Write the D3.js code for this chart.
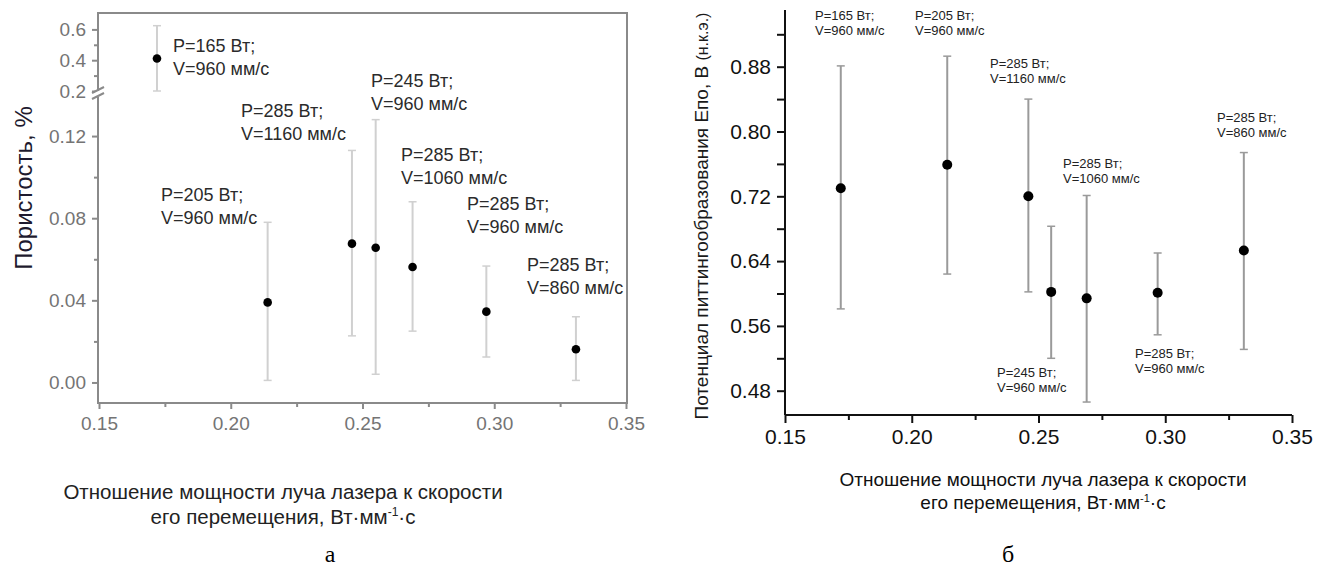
<!DOCTYPE html>
<html><head><meta charset="utf-8">
<script src="https://cdn.jsdelivr.net/npm/d3@7"></script>
<style>
html,body{margin:0;padding:0;background:#fff;}
svg{display:block;font-family:Arial,"Liberation Sans",sans-serif;}
</style></head>
<body>
<svg id="chart" width="1328" height="576"></svg>
<script>
// ---- data ----
const power = [165, 205, 285, 245, 285, 285, 285];          // Вт
const speed = [960, 960, 1160, 960, 1060, 960, 860];        // мм/с
const ratio = [0.172, 0.214, 0.246, 0.255, 0.269, 0.297, 0.331];
const porosity     = [0.411, 0.039, 0.0676, 0.0656, 0.0562, 0.0345, 0.0162];
const porosityLow  = [0.200, 0.001, 0.0227, 0.004, 0.025, 0.0124, 0.001];
const porosityHigh = [0.624, 0.078, 0.113, 0.128, 0.088, 0.0567, 0.032];
const potential     = [0.730, 0.759, 0.720, 0.602, 0.594, 0.601, 0.653];
const potentialLow  = [0.581, 0.624, 0.602, 0.520, 0.466, 0.549, 0.531];
const potentialHigh = [0.881, 0.893, 0.840, 0.683, 0.721, 0.650, 0.774];
const xTicks = [0.15, 0.20, 0.25, 0.30, 0.35];
const porTicksLow = [0.00, 0.04, 0.08, 0.12];
const porTicksHigh = [0.2, 0.4, 0.6];
const potTicks = [0.48, 0.56, 0.64, 0.72, 0.80, 0.88];

const svg = d3.select("#chart");
const fmt2 = d3.format(".2f"), fmt1 = d3.format(".1f");

// ================= LEFT CHART (а) =================
const L = {left: 98, right: 627, top: 13, bottom: 403};
const xL = d3.scaleLinear().domain([0.15, 0.35]).range([L.left + 1, 626]);
const yLo = d3.scaleLinear().domain([-0.01, 0.14]).range([L.bottom, 95]);
const yHi = d3.scaleLinear().domain([0.2, 0.7]).range([91, 14]);
const yPor = v => v >= 0.2 ? yHi(v) : yLo(v);
const gL = svg.append("g");
const grey = "#8a8a8a";

// frame
gL.append("rect").attr("x", L.left).attr("y", L.top)
  .attr("width", L.right - L.left).attr("height", L.bottom - L.top)
  .attr("fill", "none").attr("stroke", grey).attr("stroke-width", 2);

// x axis
const gxL = gL.append("g").attr("transform", `translate(0,${L.bottom})`)
  .call(d3.axisBottom(xL).tickValues(xTicks).tickFormat(fmt2).tickSize(6).tickPadding(8));
gxL.select(".domain").remove();
const gxLm = gL.append("g").attr("transform", `translate(0,${L.bottom})`)
  .call(d3.axisBottom(xL).tickValues([0.175, 0.225, 0.275, 0.325]).tickFormat("").tickSize(4));
gxLm.select(".domain").remove();

// y axis lower
const gyLo = gL.append("g").attr("transform", `translate(${L.left},0)`)
  .call(d3.axisLeft(yLo).tickValues(porTicksLow).tickFormat(fmt2).tickSize(6).tickPadding(6));
gyLo.select(".domain").remove();
const gyLoM = gL.append("g").attr("transform", `translate(${L.left},0)`)
  .call(d3.axisLeft(yLo).tickValues([0.02, 0.06, 0.10]).tickFormat("").tickSize(4));
gyLoM.select(".domain").remove();
// y axis upper
const gyHi = gL.append("g").attr("transform", `translate(${L.left},0)`)
  .call(d3.axisLeft(yHi).tickValues(porTicksHigh).tickFormat(fmt1).tickSize(6).tickPadding(6));
gyHi.select(".domain").remove();
const gyHiM = gL.append("g").attr("transform", `translate(${L.left},0)`)
  .call(d3.axisLeft(yHi).tickValues([0.3, 0.5]).tickFormat("").tickSize(4));
gyHiM.select(".domain").remove();
[gxL, gxLm, gyLo, gyLoM, gyHi, gyHiM].forEach(g => {
  g.selectAll("line").attr("stroke", grey).attr("stroke-width", 2);
  g.selectAll("text").attr("fill", "#747474").attr("font-size", 19).attr("font-family", "Arial,Liberation Sans");
});

// axis break
gL.append("rect").attr("x", L.left - 3).attr("y", 91).attr("width", 6).attr("height", 6).attr("fill", "#fff");
gL.append("line").attr("x1", L.left - 6).attr("y1", 93).attr("x2", L.left + 6).attr("y2", 87).attr("stroke", grey).attr("stroke-width", 2);
gL.append("line").attr("x1", L.left - 6).attr("y1", 99).attr("x2", L.left + 6).attr("y2", 93).attr("stroke", grey).attr("stroke-width", 2);

// error bars + points
const capL = 4;
ratio.forEach((r, i) => {
  const x = xL(r);
  gL.append("line").attr("x1", x).attr("x2", x).attr("y1", yPor(porosityLow[i])).attr("y2", yPor(porosityHigh[i]))
    .attr("stroke", "#d0d0d0").attr("stroke-width", 2);
  [porosityLow[i], porosityHigh[i]].forEach(v => {
    gL.append("line").attr("x1", x - capL).attr("x2", x + capL).attr("y1", yPor(v)).attr("y2", yPor(v))
      .attr("stroke", "#d0d0d0").attr("stroke-width", 1.5);
  });
  gL.append("circle").attr("cx", x).attr("cy", yPor(porosity[i])).attr("r", 4.3).attr("fill", "#000");
});

// labels
const leftLabelPos = [[173, 52], [161, 201], [241, 117], [371, 87], [401, 161], [467, 210], [527, 271]];
power.forEach((p, i) => {
  const t = gL.append("text").attr("x", leftLabelPos[i][0]).attr("y", leftLabelPos[i][1])
    .attr("font-size", 18).attr("fill", "#2b2b2b");
  t.append("tspan").attr("x", leftLabelPos[i][0]).text(`P=${p} Вт;`);
  t.append("tspan").attr("x", leftLabelPos[i][0]).attr("dy", 23).text(`V=${speed[i]} мм/с`);
});

// axis titles
gL.append("text").attr("transform", "translate(32,188) rotate(-90)").attr("text-anchor", "middle")
  .attr("font-size", 24).attr("fill", "#1e1a2e").text("Пористость, %");
const xtL = gL.append("text").attr("text-anchor", "middle").attr("font-size", 20.5).attr("fill", "#222");
xtL.append("tspan").attr("x", 283).attr("y", 499).text("Отношение мощности луча лазера к скорости");
const l2 = xtL.append("tspan").attr("x", 283).attr("y", 524);
l2.append("tspan").text("его перемещения, Вт·мм");
l2.append("tspan").attr("font-size", 12).attr("dy", -8).text("-1");
l2.append("tspan").attr("dy", 8).text("·с");
gL.append("text").attr("x", 330).attr("y", 562).attr("text-anchor", "middle")
  .attr("font-family", "'Liberation Serif','DejaVu Serif',serif").attr("font-size", 24).attr("fill", "#000").text("а");

// ================= RIGHT CHART (б) =================
const R = {left: 785, bottom: 415, top: 10};
const xR = d3.scaleLinear().domain([0.15, 0.35]).range([R.left, 1292]);
const yR = d3.scaleLinear().domain([0.45, 0.95]).range([R.bottom, R.top]);
const gR = svg.append("g");

const gxR = gR.append("g").attr("transform", `translate(0,${R.bottom})`)
  .call(d3.axisBottom(xR).tickValues(xTicks).tickFormat(fmt2).tickSize(8).tickPadding(6));
const gxRm = gR.append("g").attr("transform", `translate(0,${R.bottom})`)
  .call(d3.axisBottom(xR).tickValues([0.175, 0.225, 0.275, 0.325]).tickFormat("").tickSize(5));
gxRm.select(".domain").remove();
const gyR = gR.append("g").attr("transform", `translate(${R.left},0)`)
  .call(d3.axisLeft(yR).tickValues(potTicks).tickFormat(fmt2).tickSize(8).tickPadding(6));
const gyRm = gR.append("g").attr("transform", `translate(${R.left},0)`)
  .call(d3.axisLeft(yR).tickValues([0.52, 0.60, 0.68, 0.76, 0.84, 0.92]).tickFormat("").tickSize(8));
gyRm.select(".domain").remove();
[gxR, gxRm, gyR, gyRm].forEach(g => {
  g.selectAll(".domain").attr("stroke", "#111").attr("stroke-width", 2);
  g.selectAll("line").attr("stroke", "#111").attr("stroke-width", 2);
  g.selectAll("text").attr("fill", "#111").attr("font-size", 21).attr("font-family", "Arial,Liberation Sans");
});
gxR.select(".domain").attr("d", `M${R.left},0H1292`);
gyR.select(".domain").attr("d", `M0,${R.top}V${R.bottom}`);

const capR = 4;
ratio.forEach((r, i) => {
  const x = xR(r);
  gR.append("line").attr("x1", x).attr("x2", x).attr("y1", yR(potentialLow[i])).attr("y2", yR(potentialHigh[i]))
    .attr("stroke", "#9a9a9a").attr("stroke-width", 2);
  [potentialLow[i], potentialHigh[i]].forEach(v => {
    gR.append("line").attr("x1", x - capR).attr("x2", x + capR).attr("y1", yR(v)).attr("y2", yR(v))
      .attr("stroke", "#9a9a9a").attr("stroke-width", 1.5);
  });
  gR.append("circle").attr("cx", x).attr("cy", yR(potential[i])).attr("r", 5).attr("fill", "#000");
});

const rightLabelPos = [[815, 20], [915, 20], [990, 68], [997, 377], [1063, 168], [1135, 358], [1217, 122]];
power.forEach((p, i) => {
  const t = gR.append("text").attr("x", rightLabelPos[i][0]).attr("y", rightLabelPos[i][1])
    .attr("font-size", 13).attr("fill", "#222");
  t.append("tspan").attr("x", rightLabelPos[i][0]).text(`P=${p} Вт;`);
  t.append("tspan").attr("x", rightLabelPos[i][0]).attr("dy", 15).text(`V=${speed[i]} мм/с`);
});

const ytR = gR.append("text").attr("transform", "translate(708,216) rotate(-90)").attr("text-anchor", "middle")
  .attr("font-size", 19).attr("fill", "#1a1a1a");
ytR.append("tspan").text("Потенциал питтингообразования Епо, В ");
ytR.append("tspan").attr("font-size", 16).text("(н.к.э.)");
const xtR = gR.append("text").attr("text-anchor", "middle").attr("font-size", 19).attr("fill", "#111");
xtR.append("tspan").attr("x", 1043).attr("y", 486).text("Отношение мощности луча лазера к скорости");
const r2 = xtR.append("tspan").attr("x", 1043).attr("y", 509);
r2.append("tspan").text("его перемещения, Вт·мм");
r2.append("tspan").attr("font-size", 11).attr("dy", -7).text("-1");
r2.append("tspan").attr("dy", 7).text("·с");
gR.append("text").attr("x", 1008).attr("y", 562).attr("text-anchor", "middle")
  .attr("font-family", "'Liberation Serif','DejaVu Serif',serif").attr("font-size", 24).attr("fill", "#000").text("б");
</script>
</body></html>
